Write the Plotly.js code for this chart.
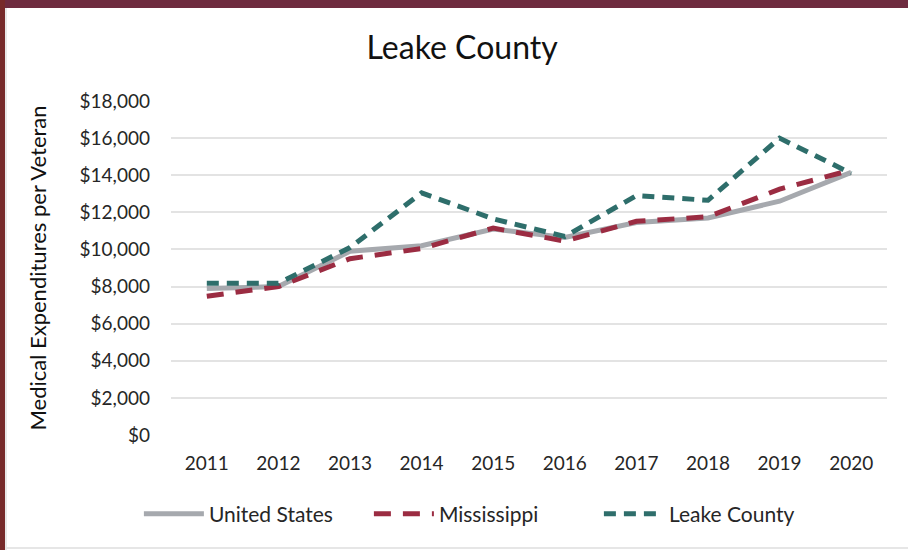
<!DOCTYPE html>
<html>
<head>
<meta charset="utf-8">
<script src="https://cdn.plot.ly/plotly-3.0.1.min.js"></script>
<style>
  html, body { margin: 0; padding: 0; background: #ffffff; }
  #wrap { position: relative; width: 908px; height: 550px; overflow: hidden; }
  #chart { position: absolute; left: 0; top: 0; width: 908px; height: 550px; }
  #topbar { position: absolute; left: 0; top: 0; width: 908px; height: 8px; background: #6e2b3f; }
  #leftbar { position: absolute; left: 0; top: 0; width: 5px; height: 550px; background: #772a2a; }
  #leftshade { position: absolute; left: 5px; top: 8px; width: 2px; height: 542px; background: #e8e8e8; }
  #bottomline { position: absolute; left: 5px; top: 547px; width: 903px; height: 2px; background: #e6e6e6; }
</style>
</head>
<body>
<div id="wrap">
  <div id="chart"></div>
  <div id="topbar"></div>
  <div id="leftbar"></div>
  <div id="leftshade"></div>
  <div id="bottomline"></div>
</div>
<script>
const years = ['2011','2012','2013','2014','2015','2016','2017','2018','2019','2020'];
const unitedStates = [7900, 8000, 9900, 10200, 11100, 10650, 11450, 11700, 12600, 14150];
const mississippi  = [7480, 8000, 9500, 10050, 11150, 10450, 11520, 11760, 13250, 14280];
const leakeCounty  = [8180, 8180, 10100, 13050, 11650, 10700, 12900, 12650, 16000, 14100];
const yTickVals = [0, 2000, 4000, 6000, 8000, 10000, 12000, 14000, 16000, 18000];
const yTickText = ['$0','$2,000','$4,000','$6,000','$8,000','$10,000','$12,000','$14,000','$16,000','$18,000'];

const FONT = 'Lato, "Open Sans", sans-serif';

const traces = [
  { x: years, y: unitedStates, name: 'United States', type: 'scatter', mode: 'lines',
    line: { color: '#a6a9ae', width: 5 } },
  { x: years, y: mississippi, name: 'Mississippi', type: 'scatter', mode: 'lines',
    line: { color: '#9b2c42', width: 5, dash: '17px,12px' } },
  { x: years, y: leakeCounty, name: 'Leake County', type: 'scatter', mode: 'lines',
    line: { color: '#2e6e6b', width: 5, dash: '12px,8px' } }
];

const layout = {
  width: 908, height: 550,
  margin: { l: 171, r: 21, t: 101, b: 115 },
  paper_bgcolor: '#ffffff', plot_bgcolor: '#ffffff',
  font: { family: FONT, color: '#262626' },
  title: { text: 'Leake County', font: { family: FONT, size: 32, color: '#111111' },
           x: 0.509, xref: 'container', xanchor: 'center', y: 0.913, yref: 'container', yanchor: 'middle' },
  xaxis: { type: 'category', range: [-0.5, 9.5], showgrid: false, zeroline: false, showline: false, ticks: '',
           tickfont: { family: FONT, size: 19, color: '#262626' }, ticklabelstandoff: 15, fixedrange: true },
  yaxis: { range: [0, 18000], tickvals: yTickVals, ticktext: yTickText, showgrid: true,
           gridcolor: '#e3e3e3', gridwidth: 2, zeroline: false, showline: false, ticks: '',
           tickfont: { family: FONT, size: 19, color: '#262626' }, ticklabelstandoff: 20,
           title: { text: 'Medical Expenditures per Veteran', font: { family: FONT, size: 22, color: '#111111' }, standoff: 26 },
           fixedrange: true },
  showlegend: true,
  legend: { orientation: 'h', x: 0.437, xanchor: 'center', y: -0.237, yanchor: 'middle',
            font: { family: FONT, size: 21, color: '#262626' }, itemwidth: 60,
            entrywidth: 155, entrywidthmode: 'pixels', bgcolor: 'rgba(0,0,0,0)' }
};

Plotly.newPlot('chart', traces, layout, { staticPlot: true, displayModeBar: false });
</script>
</body>
</html>
